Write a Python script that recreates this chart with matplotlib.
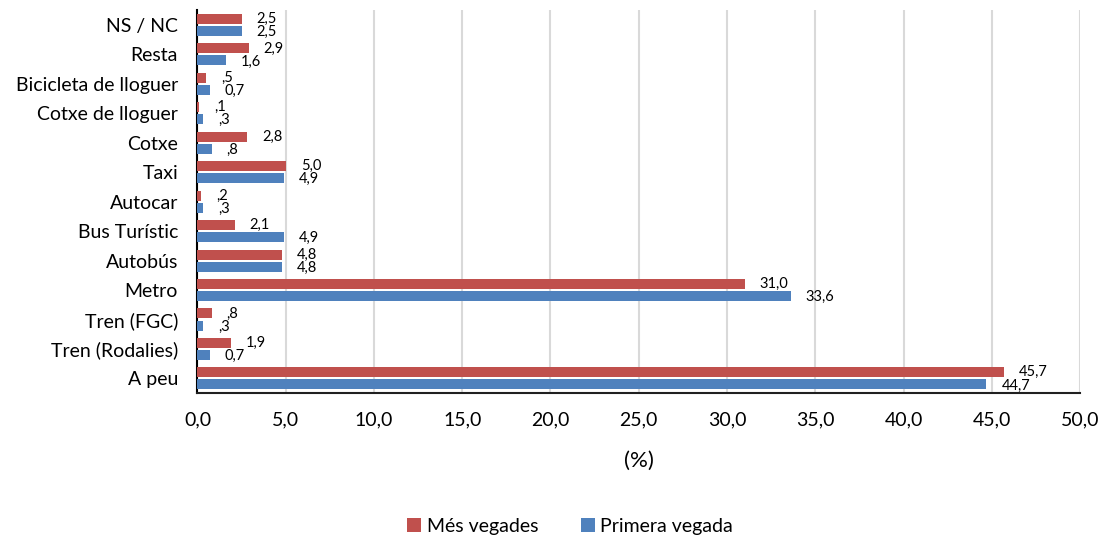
import numpy as np
import matplotlib.pyplot as plt

plt.rcParams['font.family'] = ['Lato', 'DejaVu Sans']

# Categories from bottom to top
categories = ['A peu', 'Tren (Rodalies)', 'Tren (FGC)', 'Metro', 'Autobús',
              'Bus Turístic', 'Autocar', 'Taxi', 'Cotxe', 'Cotxe de lloguer',
              'Bicicleta de lloguer', 'Resta', 'NS / NC']
mes_vegades = [45.7, 1.9, 0.8, 31.0, 4.8, 2.1, 0.2, 5.0, 2.8, 0.1, 0.5, 2.9, 2.5]
primera_vegada = [44.7, 0.7, 0.3, 33.6, 4.8, 4.9, 0.3, 4.9, 0.8, 0.3, 0.7, 1.6, 2.5]
mes_labels = ['45,7', '1,9', ',8', '31,0', '4,8', '2,1', ',2', '5,0', '2,8',
              ',1', ',5', '2,9', '2,5']
primera_labels = ['44,7', '0,7', ',3', '33,6', '4,8', '4,9', ',3', '4,9', ',8',
                  ',3', '0,7', '1,6', '2,5']
xticks = np.arange(0, 51, 5)

red = '#C0504D'
blue = '#4F81BD'

fig = plt.figure(figsize=(11.05, 5.4), dpi=100)
ax = fig.add_axes([0.1787, 0.272, 0.7987, 0.709])

y = np.arange(len(categories))
h = 0.34
off = 0.205
ax.barh(y + off, mes_vegades, height=h, color=red, label='Més vegades', zorder=3)
ax.barh(y - off, primera_vegada, height=h, color=blue, label='Primera vegada', zorder=3)

for yi, v, s in zip(y, mes_vegades, mes_labels):
    ax.annotate(s, (v, yi + off), xytext=(15, 0), textcoords='offset pixels',
                va='center', ha='left', fontsize=10.5)
for yi, v, s in zip(y, primera_vegada, primera_labels):
    ax.annotate(s, (v, yi - off), xytext=(15, -1), textcoords='offset pixels',
                va='center', ha='left', fontsize=10.5)

ax.set_xlim(0, 50)
ax.set_ylim(-0.5, 12.5)
ax.set_xticks(xticks)
ax.set_xticklabels([('%.1f' % t).replace('.', ',') for t in xticks], fontsize=14)
ax.set_yticks(y)
ax.set_yticklabels(categories, fontsize=14)
ax.tick_params(axis='x', length=0, pad=13)
ax.tick_params(axis='y', length=0, pad=14)
ax.xaxis.grid(True, color='#D9D9D9', linewidth=1.5, zorder=0)
ax.set_axisbelow(True)
for s in ['top', 'right']:
    ax.spines[s].set_visible(False)
ax.spines['left'].set_color('black')
ax.spines['left'].set_linewidth(1.5)
ax.spines['bottom'].set_color('#202020')
ax.spines['bottom'].set_linewidth(1.5)
ax.set_xlabel('(%)', fontsize=16, labelpad=16)

handles, labels = ax.get_legend_handles_labels()
fig.legend(handles, labels, loc='center', bbox_to_anchor=(0.516, 0.025),
           ncol=2, frameon=False, fontsize=14, handlelength=0.7,
           handleheight=0.7, handletextpad=0.3, columnspacing=2.2)

fig.savefig('out.png', dpi=100)
